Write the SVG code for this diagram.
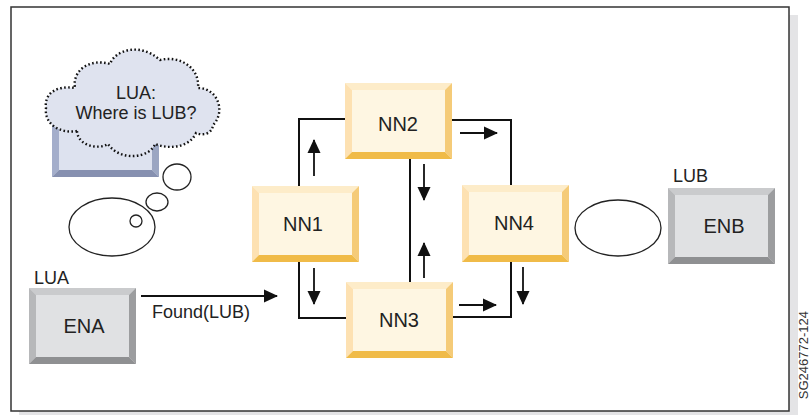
<svg xmlns="http://www.w3.org/2000/svg" width="810" height="415" viewBox="0 0 810 415">
<defs>
<style>
text{font-family:"Liberation Sans",Arial,sans-serif;fill:#222;}
.lbl{font-size:20px;text-anchor:middle;}
.sm{font-size:18px;}
.con{fill:none;stroke:#111;stroke-width:2;}
.arr{fill:none;stroke:#111;stroke-width:1.8;marker-end:url(#ah);}
.bub{fill:#fff;stroke:#222;stroke-width:1.3;}
.yf{fill:#fef6e2}.yt{fill:#fdecc9}.yl{fill:#fde1b2}.yr{fill:#f5cb78}.yb{fill:#f0bb48}
.gf{fill:#e0e1e3}.gt{fill:#cacbcd}.gl{fill:#b7b8ba}.gr{fill:#9c9d9f}.gb{fill:#8f9092}
.bf{fill:#dde2ef}.bt{fill:#c8cfe2}.bl{fill:#a4aecb}.br{fill:#9ba6c2}.bb{fill:#8690b0}
</style>
<marker id="ah" viewBox="0 0 14 14" refX="13" refY="7" markerWidth="14" markerHeight="14" markerUnits="userSpaceOnUse" orient="auto">
<path d="M0,0.5 L14,7 L0,13.5 Z" fill="#111"/>
</marker>
</defs>
<rect x="19" y="15" width="779" height="400" fill="#e4e4e6"/>
<rect x="11" y="7" width="778" height="404" fill="#fff" stroke="#333" stroke-width="1.5"/>
<text transform="translate(808,311) rotate(-90)" style="font-size:13px;text-anchor:end;fill:#333">SG246772-124</text>

<g id="thought-box">
<rect class="bf" x="52" y="100" width="107" height="77"/>
<polygon class="bt" points="52,100 159,100 152,107 59,107"/>
<polygon class="bl" points="52,100 59,107 59,170 52,177"/>
<polygon class="br" points="159,100 159,177 152,170 152,107"/>
<polygon class="bb" points="52,177 59,170 152,170 159,177"/>
</g>

<g id="cloud">
<path d="M77,131 C60,134 44,124 46,108 C44,94 56,85 75,88 C72,70 90,58 110,64 C115,50 140,42 160,60 C180,55 200,68 198,88 C218,88 226,112 213,125 C212,134 203,136 196,133 C190,147 170,150 155,144 C150,158 120,162 108,144 C98,150 78,146 77,131 Z" fill="#dfe3ef" stroke="#111" stroke-width="2.4" stroke-dasharray="1.6 2.4"/>
<text class="sm" x="136" y="99" text-anchor="middle">LUA:</text>
<text class="sm" x="136" y="119" text-anchor="middle">Where is LUB?</text>
</g>

<g id="bubbles">
<ellipse class="bub" cx="177" cy="177" rx="14" ry="13"/>
<ellipse class="bub" cx="157" cy="202" rx="11" ry="9"/>
<ellipse class="bub" cx="112" cy="227" rx="43" ry="29"/>
<circle class="bub" cx="136" cy="221" r="6"/>
</g>

<g id="ENA">
<rect class="gf" x="29" y="288" width="107" height="76"/>
<polygon class="gt" points="29,288 136,288 129,295 36,295"/>
<polygon class="gl" points="29,288 36,295 36,357 29,364"/>
<polygon class="gr" points="136,288 136,364 129,357 129,295"/>
<polygon class="gb" points="29,364 36,357 129,357 136,364"/>
<text class="lbl" x="84" y="333">ENA</text>
<text class="sm" x="34" y="284">LUA</text>
</g>

<g id="ENB">
<rect class="gf" x="668" y="188" width="107" height="76"/>
<polygon class="gt" points="668,188 775,188 768,195 675,195"/>
<polygon class="gl" points="668,188 675,195 675,257 668,264"/>
<polygon class="gr" points="775,188 775,264 768,257 768,195"/>
<polygon class="gb" points="668,264 675,257 768,257 775,264"/>
<text class="lbl" x="724" y="233">ENB</text>
<text class="sm" x="673" y="182">LUB</text>
</g>

<g id="ellipse-right">
<ellipse class="bub" cx="618" cy="228" rx="43" ry="28"/>
</g>

<g id="connectors">
<path class="con" d="M299,186 V119 H345"/>
<path class="con" d="M452,120 H511 V185"/>
<path class="con" d="M299,262 V318 H346"/>
<path class="con" d="M453,317 H511 V262"/>
<path class="con" d="M410,159 V282"/>
<line class="arr" x1="141" y1="296" x2="277" y2="296"/>
<line class="arr" x1="314" y1="176" x2="314" y2="140"/>
<line class="arr" x1="460" y1="133" x2="497" y2="133"/>
<line class="arr" x1="424" y1="164" x2="424" y2="200"/>
<line class="arr" x1="424" y1="278" x2="424" y2="243"/>
<line class="arr" x1="314" y1="268" x2="314" y2="304"/>
<line class="arr" x1="459" y1="305" x2="496" y2="305"/>
<line class="arr" x1="523" y1="267" x2="523" y2="304"/>
<text class="sm" x="152" y="318">Found(LUB)</text>
</g>

<g id="NN1">
<rect class="yf" x="252" y="186" width="107" height="76"/>
<polygon class="yt" points="252,186 359,186 352,193 259,193"/>
<polygon class="yl" points="252,186 259,193 259,255 252,262"/>
<polygon class="yr" points="359,186 359,262 352,255 352,193"/>
<polygon class="yb" points="252,262 259,255 352,255 359,262"/>
<text class="lbl" x="303" y="231">NN1</text>
</g>

<g id="NN2">
<rect class="yf" x="345" y="83" width="107" height="76"/>
<polygon class="yt" points="345,83 452,83 445,90 352,90"/>
<polygon class="yl" points="345,83 352,90 352,152 345,159"/>
<polygon class="yr" points="452,83 452,159 445,152 445,90"/>
<polygon class="yb" points="345,159 352,152 445,152 452,159"/>
<text class="lbl" x="398" y="131">NN2</text>
</g>

<g id="NN3">
<rect class="yf" x="346" y="282" width="107" height="76"/>
<polygon class="yt" points="346,282 453,282 446,289 353,289"/>
<polygon class="yl" points="346,282 353,289 353,351 346,358"/>
<polygon class="yr" points="453,282 453,358 446,351 446,289"/>
<polygon class="yb" points="346,358 353,351 446,351 453,358"/>
<text class="lbl" x="399" y="327">NN3</text>
</g>

<g id="NN4">
<rect class="yf" x="462" y="185" width="107" height="77"/>
<polygon class="yt" points="462,185 569,185 562,192 469,192"/>
<polygon class="yl" points="462,185 469,192 469,255 462,262"/>
<polygon class="yr" points="569,185 569,262 562,255 562,192"/>
<polygon class="yb" points="462,262 469,255 562,255 569,262"/>
<text class="lbl" x="514" y="230">NN4</text>
</g>
</svg>
